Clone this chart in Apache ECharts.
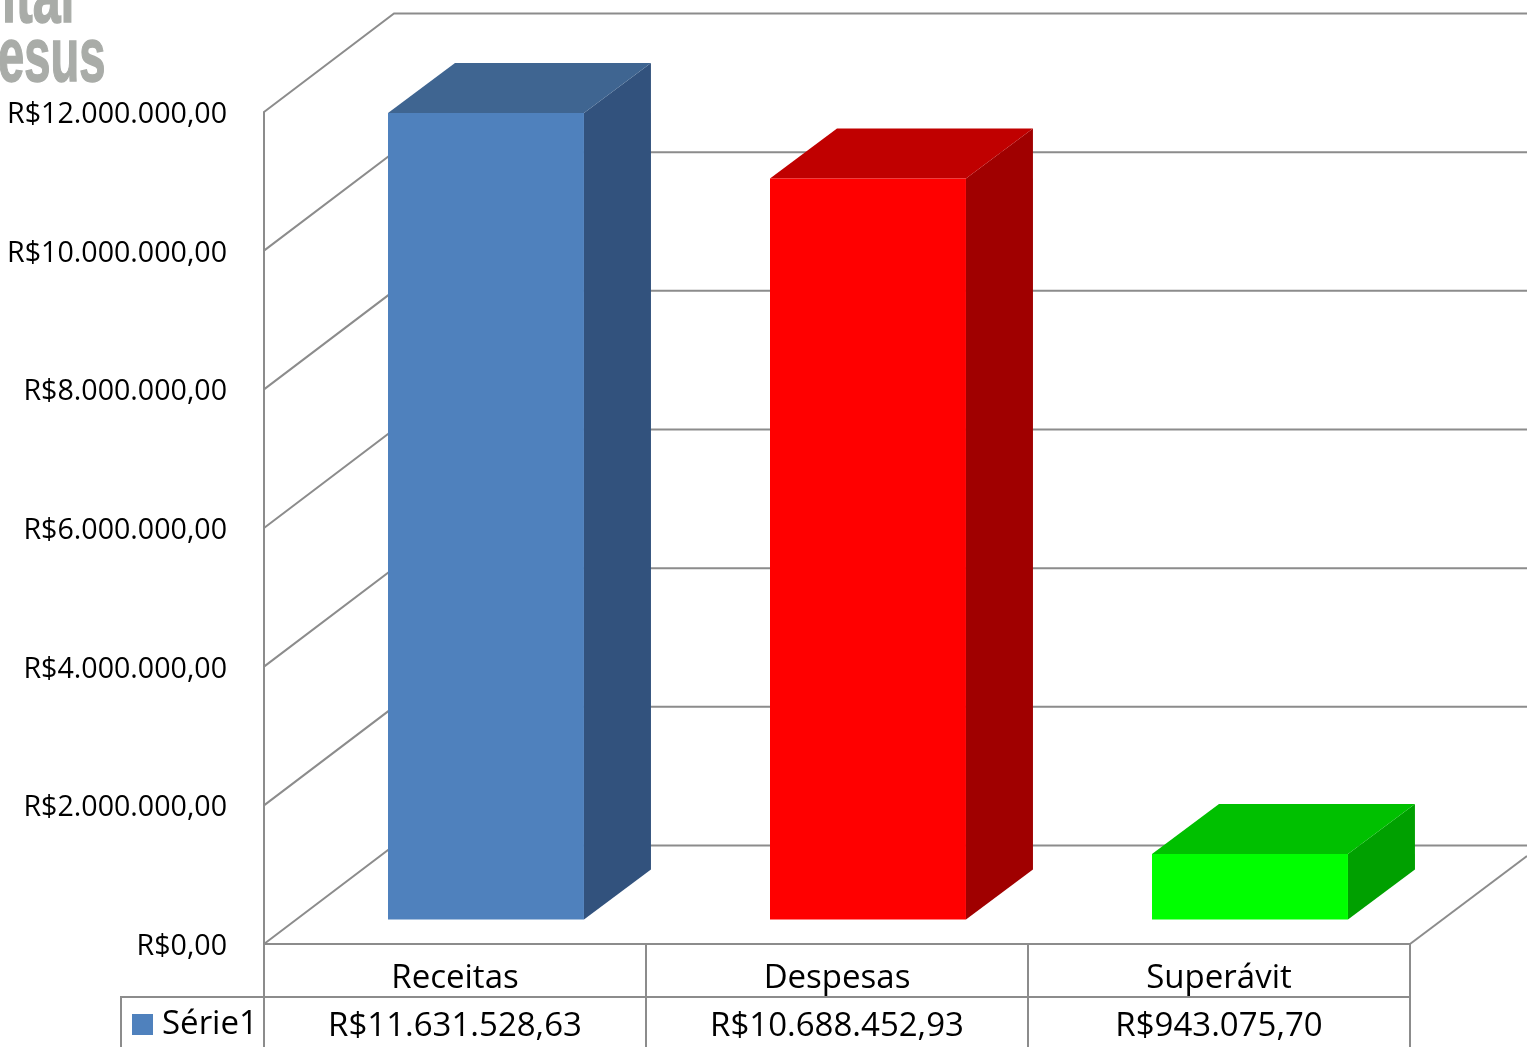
<!DOCTYPE html>
<html><head><meta charset="utf-8">
<style>html,body{margin:0;padding:0;background:#fff;overflow:hidden}#c{width:1527px;height:1047px}</style>
<script src="https://cdn.jsdelivr.net/npm/echarts@6/dist/echarts.min.js"></script>
</head><body><div id="c"></div>
<script>
const categories = ['Receitas', 'Despesas', 'Superávit'];
const values = [11631528.63, 10688452.93, 943075.70];
const frontColors = ['#4f81bd', '#ff0000', '#00ff00'];
const topColors = ['#3f6591', '#c00000', '#00c000'];
const sideColors = ['#32527d', '#a00000', '#00a000'];
const wallTicks = [0, 2000000, 4000000, 6000000, 8000000, 10000000, 12000000];
const seriesName = 'Série1';
const FONT = '"Open Sans"';
const GRID = '#8c8c8c';

// perspective offsets of the plot box, px
const WALL_DX = 130, WALL_DY = -98.5;
const BAR_DX = 67, BAR_DY = -50, BAR_LIFT = -24.5, BAR_SHIFT = -67, BAR_WIDTH = 0.513;

function brl(v) {
  const [i, d] = v.toFixed(2).split('.');
  return 'R$' + i.replace(/\B(?=(\d{3})+$)/g, '.') + ',' + d;
}

const chart = echarts.init(document.getElementById('c'), null, {renderer: 'canvas'});
chart.setOption({
  animation: false,
  backgroundColor: '#fff',
  textStyle: {fontFamily: FONT},
  grid: {left: 264, right: 117, top: 112, bottom: 103, outerBoundsMode: 'none'},
  legend: {
    left: 127, top: 1003, itemWidth: 21, itemHeight: 21, itemGap: 0, icon: 'rect',
    data: [seriesName],
    textStyle: {fontFamily: FONT, fontSize: 33, color: '#000', padding: [6, 0, 0, 4]}
  },
  xAxis: {
    type: 'category', data: categories,
    axisLine: {lineStyle: {color: GRID, width: 2}},
    axisTick: {show: true, length: 103, lineStyle: {color: GRID, width: 2}},
    axisLabel: {
      interval: 0, margin: 11, color: '#000', fontFamily: FONT, fontSize: 33, lineHeight: 48,
      formatter: (name, i) => name + '\n' + brl(values[i])
    }
  },
  yAxis: {
    type: 'value', min: 0, max: 12000000, interval: 2000000,
    axisLine: {show: true, lineStyle: {color: GRID, width: 2}},
    axisTick: {show: false}, splitLine: {show: false},
    axisLabel: {margin: 37, color: '#000', fontFamily: FONT, fontSize: 28.6, verticalAlign: 'top', lineHeight: 6, formatter: v => brl(v)}
  },
  graphic: [
    {type: 'line', silent: true, z: 5, shape: {x1: 120, y1: 997, x2: 1410, y2: 997}, style: {stroke: GRID, lineWidth: 2}},
    {type: 'line', silent: true, z: 5, shape: {x1: 121, y1: 997, x2: 121, y2: 1047}, style: {stroke: GRID, lineWidth: 2}},
    {type: 'line', silent: true, z: 5, shape: {x1: 1410, y1: 944, x2: 1527, y2: 856}, style: {stroke: GRID, lineWidth: 2}},
    {type: 'text', silent: true, z: 5, x: -2, y: 98, scaleX: 0.62, style: {text: 'esus', fill: '#a9aca8', stroke: '#a9aca8', lineWidth: 1.5, font: 'bold 76px "Liberation Sans"', verticalAlign: 'bottom', shadowBlur: 3, shadowColor: '#c4c6c3'}},
    {type: 'text', silent: true, z: 5, x: 2, y: 39, scaleX: 0.66, style: {text: 'ital', fill: '#a9aca8', stroke: '#a9aca8', lineWidth: 1.5, font: 'bold 76px "Liberation Sans"', verticalAlign: 'bottom', shadowBlur: 3, shadowColor: '#c4c6c3'}}
  ],
  series: [
    {
      type: 'custom', silent: true, z: 1, coordinateSystem: 'cartesian2d',
      data: wallTicks.map(v => [0, v]),
      encode: {x: 0, y: 1},
      renderItem(params, api) {
        const p = api.coord([0, api.value(1)]);
        const x0 = params.coordSys.x, y = p[1];
        const xEnd = params.coordSys.x + params.coordSys.width + 300;
        return {type: 'polyline', shape: {points: [[x0, y], [x0 + WALL_DX, y + WALL_DY], [xEnd, y + WALL_DY]]},
          style: {stroke: GRID, lineWidth: 2, fill: null}};
      }
    },
    {
      name: seriesName, type: 'custom', z: 3, coordinateSystem: 'cartesian2d',
      itemStyle: {color: frontColors[0]},
      data: values.map((v, i) => [i, v]),
      encode: {x: 0, y: 1},
      renderItem(params, api) {
        const i = api.value(0);
        const top = api.coord([i, api.value(1)]);
        const base = api.coord([i, 0]);
        const band = api.size([1, 0])[0];
        const l = top[0] + BAR_SHIFT, r = l + band * BAR_WIDTH;
        const t = top[1] + BAR_LIFT, b = base[1] + BAR_LIFT;
        return {type: 'group', children: [
          {type: 'polygon', shape: {points: [[r, t], [r + BAR_DX, t + BAR_DY], [r + BAR_DX, b + BAR_DY], [r, b]]}, style: {fill: sideColors[i]}},
          {type: 'polygon', shape: {points: [[l, t], [l + BAR_DX, t + BAR_DY], [r + BAR_DX, t + BAR_DY], [r, t]]}, style: {fill: topColors[i]}},
          {type: 'rect', shape: {x: l, y: t, width: r - l, height: b - t}, style: {fill: frontColors[i]}}
        ]};
      }
    }
  ]
});
</script></body></html>
